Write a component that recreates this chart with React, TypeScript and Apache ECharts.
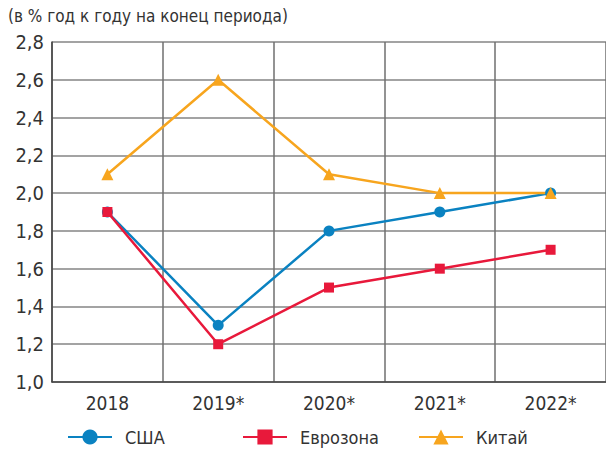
import React, { useEffect, useRef } from "react";
import * as echarts from "echarts";

const categories = ["2018", "2019*", "2020*", "2021*", "2022*"];
const usa = [1.9, 1.3, 1.8, 1.9, 2.0];
const euro = [1.9, 1.2, 1.5, 1.6, 1.7];
const china = [2.1, 2.6, 2.1, 2.0, 2.0];
const seriesNames = ["США", "Еврозона", "Китай"];
const subtitle = "(в % год к году на конец периода)";

const FONT = "'DejaVu Sans Condensed', 'Liberation Sans Narrow', sans-serif";
const colors = ["#0a82c1", "#e8193b", "#f7a51e"];

export default function App() {
  const ref = useRef<HTMLDivElement>(null);
  useEffect(() => {
    if (!ref.current) return;
    const chart = echarts.init(ref.current, null, { renderer: "svg" });
    const legendLeft = [67, 242, 418];
    chart.setOption({
      animation: false,
      textStyle: { fontFamily: FONT },
      graphic: [
        {
          type: "text",
          left: 8,
          top: 7,
          style: { text: subtitle, font: `17px ${FONT}`, fill: "#333" },
        },
      ],
      legend: seriesNames.map((n, i) => ({
        data: [n],
        left: legendLeft[i],
        top: 428,
        itemWidth: 44,
        itemHeight: 19,
        itemGap: 0,
        padding: 0,
        textStyle: { fontSize: 18, color: "#333", fontFamily: FONT, padding: [0, 0, 0, 8] },
      })),
      grid: { left: 52, top: 42, width: 565, height: 340 },
      xAxis: {
        type: "category",
        data: categories,
        boundaryGap: true,
        axisLine: { lineStyle: { color: "#444", width: 1.5 } },
        axisTick: { show: false },
        axisLabel: { fontSize: 19, color: "#333", margin: 11, fontFamily: FONT },
        splitLine: { show: true, lineStyle: { color: "#6f6f6f", width: 1.5 } },
      },
      yAxis: {
        type: "value",
        min: 1.0,
        max: 2.8,
        interval: 0.2,
        axisLine: { show: true, lineStyle: { color: "#444", width: 1.5 } },
        axisTick: { show: false },
        axisLabel: {
          fontSize: 20,
          color: "#333",
          margin: 8,
          fontFamily: FONT,
          formatter: (v: number) => v.toFixed(1).replace(".", ","),
        },
        splitLine: { show: true, lineStyle: { color: "#858585", width: 1.5 } },
      },
      series: [
        {
          name: seriesNames[0],
          type: "line",
          data: usa,
          symbol: "circle",
          symbolSize: 11,
          lineStyle: { color: colors[0], width: 2.5 },
          itemStyle: { color: colors[0] },
        },
        {
          name: seriesNames[1],
          type: "line",
          data: euro,
          symbol: "rect",
          symbolSize: 10,
          lineStyle: { color: colors[1], width: 2.5 },
          itemStyle: { color: colors[1] },
        },
        {
          name: seriesNames[2],
          type: "line",
          data: china,
          symbol: "triangle",
          symbolSize: 12,
          lineStyle: { color: colors[2], width: 2.5 },
          itemStyle: { color: colors[2] },
        },
      ],
    });
    return () => chart.dispose();
  }, []);
  return <div ref={ref} style={{ width: 606, height: 449, position: "absolute", left: 0, top: 0 }} />;
}
